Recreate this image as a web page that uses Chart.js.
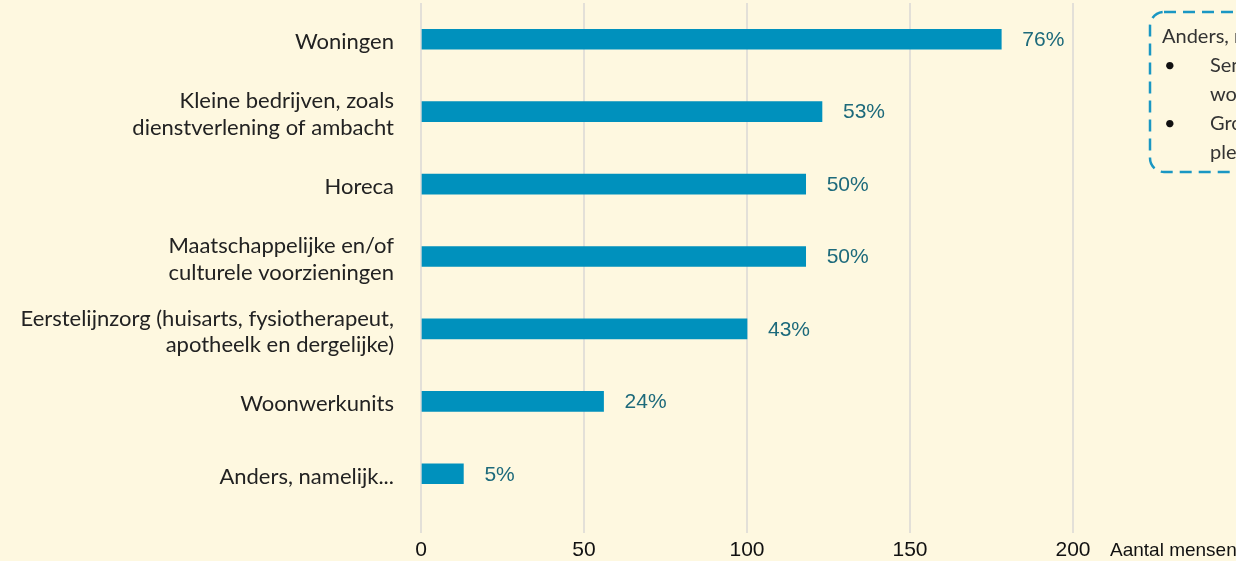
<!DOCTYPE html>
<html lang="nl">
<head>
    <meta charset="UTF-8">
    <title>Gewenste voorzieningen</title>
    <script src="https://cdn.jsdelivr.net/npm/chart.js"></script>
    <style>
        html, body {
            margin: 0;
            padding: 0;
            width: 1236px;
            height: 561px;
            overflow: hidden;
            background: #fef8e0;
        }

        .chart-wrap {
            position: absolute;
            left: 0;
            top: 0;
            width: 1236px;
            height: 561px;
        }

        /* dashed note box on the right, partly cut off by the page edge */
        .note {
            position: absolute;
            left: 1148px;
            top: 10px;
            width: 300px;
            height: 164px;
            font-family: Lato, "Noto Sans", sans-serif;
            font-size: 20px;
            color: #333;
        }

        .note svg {
            position: absolute;
            left: 0;
            top: 0;
        }

        .note .txt {
            position: absolute;
            left: 14px;
            top: 11px;
            line-height: 29px;
            white-space: nowrap;
        }

        .note ul {
            margin: 0;
            padding: 0;
            list-style: none;
        }

        .note li {
            position: relative;
            padding-left: 48px;
        }

        .note li::before {
            content: "•";
            position: absolute;
            left: 2px;
            top: 0;
            color: #111;
        }
    </style>
</head>
<body>

<div class="chart-wrap">
    <canvas id="barChart" width="1236" height="561"></canvas>
</div>

<div class="note">
    <svg width="300" height="164">
        <rect x="2" y="2" width="296" height="160" rx="14" ry="14" fill="none"
              stroke="#1a97c3" stroke-width="2.5" stroke-dasharray="12 7"></rect>
    </svg>
    <div class="txt">
        Anders, namelijk:
        <ul>
            <li>Seniorenwoningen,<br>woonzorg</li>
            <li>Groen en<br>pleinen</li>
        </ul>
    </div>
</div>

<script>
    // categories (top to bottom)
    const categories = [
        'Woningen',
        ['Kleine bedrijven, zoals', 'dienstverlening of ambacht'],
        'Horeca',
        ['Maatschappelijke en/of', 'culturele voorzieningen'],
        ['Eerstelijnzorg (huisarts, fysiotherapeut,', 'apotheelk en dergelijke)'],
        'Woonwerkunits',
        'Anders, namelijk...'
    ];

    // number of people per category
    const counts = [178, 123, 118, 118, 100, 56, 13];

    // percentage labels shown next to the bars
    const pctLabels = ['76%', '53%', '50%', '50%', '43%', '24%', '5%'];

    // x axis
    const xTicks = [0, 50, 100, 150, 200];
    const xTitle = 'Aantal mensen';

    // draws the percentages and the axis title
    const valueLabels = {
        id: 'valueLabels',
        afterDatasetsDraw(chart) {
            const ctx = chart.ctx;
            const meta = chart.getDatasetMeta(0);
            ctx.save();
            ctx.font = '21px "Liberation Sans", Arial, sans-serif';
            ctx.fillStyle = '#1d6a7b';
            ctx.textBaseline = 'middle';
            ctx.textAlign = 'left';
            meta.data.forEach((bar, i) => {
                ctx.fillText(pctLabels[i], bar.x + 21, bar.y + 1);
            });

            const xs = chart.scales.x;
            ctx.font = '19px "Liberation Sans", Arial, sans-serif';
            ctx.fillStyle = '#111';
            ctx.fillText(xTitle, xs.right + 37, xs.bottom - 10);
            ctx.restore();
        }
    };

    const ctx = document.getElementById('barChart').getContext('2d');

    new Chart(ctx, {
        type: 'bar',
        data: {
            labels: categories,
            datasets: [{
                data: counts,
                backgroundColor: '#0091bd',
                barThickness: 20
            }]
        },
        options: {
            indexAxis: 'y',
            responsive: false,
            animation: false,
            layout: {
                padding: { top: 3, right: 163, bottom: 0, left: 0 }
            },
            plugins: {
                legend: { display: false },
                tooltip: { enabled: false }
            },
            scales: {
                x: {
                    min: xTicks[0],
                    max: xTicks[xTicks.length - 1],
                    afterBuildTicks: (scale) => {
                        scale.ticks = xTicks.map(v => ({ value: v }));
                    },
                    afterFit: (scale) => {
                        scale.height = 51;
                    },
                    grid: {
                        color: '#e3e0d8',
                        lineWidth: 2,
                        tickLength: 23,
                        tickColor: '#e3e0d8'
                    },
                    border: { display: false },
                    ticks: {
                        padding: 5,
                        color: '#111',
                        maxRotation: 0,
                        font: { family: '"Liberation Sans", Arial, sans-serif', size: 21 }
                    }
                },
                y: {
                    afterFit: (scale) => {
                        scale.width = 421;
                        scale.paddingTop = 0;
                        scale.paddingBottom = 0;
                    },
                    grid: { display: false, drawTicks: false },
                    border: { display: false },
                    ticks: {
                        padding: 27,
                        labelOffset: 3,
                        color: '#222',
                        font: { family: 'Lato, "Noto Sans", sans-serif', size: 22, lineHeight: 1.22 }
                    }
                }
            }
        },
        plugins: [valueLabels]
    });
</script>
</body>
</html>
